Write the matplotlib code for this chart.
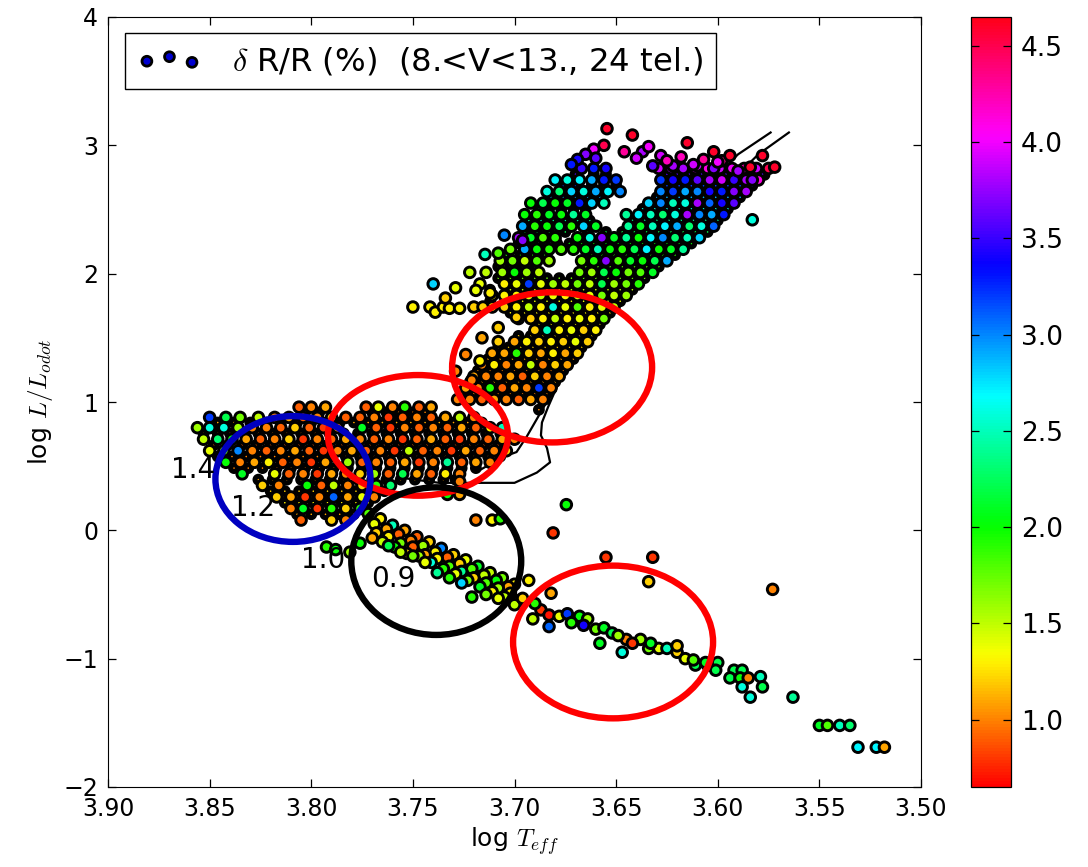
import matplotlib
matplotlib.use('Agg')
import matplotlib.pyplot as plt
from matplotlib.patches import Ellipse

plt.rcParams['mathtext.fontset'] = 'cm'

# turnoff / hook, one list per row of log L
hook_y = [0.96, 0.88, 0.80, 0.71, 0.62, 0.53, 0.44, 0.35, 0.26, 0.17, 0.08]
hook_x = [
    [3.806, 3.800, 3.793, 3.773, 3.767, 3.760, 3.754, 3.747, 3.741],
    [3.850, 3.842, 3.835, 3.826, 3.818, 3.811, 3.804, 3.797, 3.790, 3.783, 3.776, 3.769, 3.762, 3.755, 3.748, 3.741, 3.734, 3.727, 3.720],
    [3.856, 3.850, 3.843, 3.836, 3.829, 3.822, 3.815, 3.808, 3.801, 3.794, 3.787, 3.775, 3.768, 3.761, 3.754, 3.747, 3.740, 3.733, 3.726, 3.719, 3.712, 3.706],
    [3.853, 3.846, 3.839, 3.832, 3.825, 3.818, 3.811, 3.804, 3.797, 3.790, 3.783, 3.776, 3.769, 3.762, 3.755, 3.748, 3.741, 3.734, 3.727, 3.720, 3.713, 3.706, 3.700],
    [3.850, 3.843, 3.836, 3.829, 3.822, 3.815, 3.808, 3.801, 3.794, 3.787, 3.780, 3.773, 3.766, 3.759, 3.752, 3.745, 3.738, 3.731, 3.724, 3.717, 3.710, 3.704],
    [3.842, 3.835, 3.828, 3.821, 3.814, 3.807, 3.800, 3.793, 3.782, 3.775, 3.768, 3.761, 3.754, 3.747, 3.740, 3.733, 3.726, 3.719, 3.712],
    [3.834, 3.818, 3.811, 3.804, 3.797, 3.790, 3.783, 3.776, 3.769, 3.762, 3.755, 3.748, 3.741, 3.734, 3.727],
    [3.824, 3.816, 3.802, 3.795, 3.789, 3.782, 3.775, 3.768, 3.761],
    [3.817, 3.810, 3.803, 3.796, 3.789, 3.782, 3.775, 3.769],
    [3.810, 3.804, 3.797, 3.790, 3.783, 3.776],
    [3.805, 3.790, 3.783],
]
hook_c = [
    [0.9, 1.0, 1.1, 0.9, 1.4, 1.0, 1.9, 0.9, 1.1],
    [3.2, 2.2, 1.7, 1.5, 1.0, 1.1, 0.9, 1.0, 1.2, 0.9, 0.9, 1.0, 0.8, 0.9, 1.0, 0.9, 1.1, 1.5, 1.0],
    [1.6, 2.6, 2.6, 1.6, 1.0, 1.0, 0.9, 1.2, 0.9, 0.8, 1.0, 2.1, 0.9, 0.8, 1.0, 0.9, 1.0, 0.9, 1.1, 0.9, 1.3, 2.5],
    [1.5, 2.3, 2.0, 1.1, 0.9, 1.0, 1.2, 0.8, 1.0, 0.9, 1.1, 1.0, 0.9, 1.0, 0.8, 0.9, 1.1, 0.9, 0.8, 1.0, 0.9, 1.1, 1.0],
    [1.4, 1.7, 3.0, 1.0, 0.9, 1.0, 1.1, 0.9, 0.8, 1.0, 1.1, 0.9, 1.0, 0.8, 1.5, 0.9, 1.0, 0.8, 1.1, 0.9, 1.0, 1.2],
    [2.0, 1.0, 1.1, 1.3, 0.9, 1.0, 0.8, 1.1, 1.6, 0.9, 1.0, 0.9, 1.1, 0.8, 1.0, 2.4, 0.9, 1.1, 1.0],
    [2.1, 1.4, 0.9, 1.0, 0.8, 1.1, 1.0, 1.2, 1.6, 0.9, 2.2, 1.1, 0.9, 1.3, 1.0],
    [1.2, 1.0, 2.0, 0.9, 1.5, 1.0, 1.2, 1.9, 2.3],
    [1.2, 1.1, 0.8, 1.0, 3.1, 1.1, 1.4, 1.0],
    [1.0, 2.1, 0.8, 1.9, 1.2, 1.9],
    [0.9, 1.2, 1.0],
]

# giant branch, one list per row of log L
rgb_y = [1.02, 1.11, 1.20, 1.29, 1.38, 1.47, 1.56, 1.65, 1.74, 1.83, 1.92, 2.01, 2.10, 2.19, 2.28, 2.37, 2.46, 2.55, 2.64, 2.73, 2.82]
rgb_x = [
    [3.686, 3.692, 3.698, 3.704, 3.710, 3.716, 3.722, 3.728],
    [3.682, 3.688, 3.694, 3.700, 3.706, 3.712, 3.718, 3.724],
    [3.678, 3.684, 3.690, 3.696, 3.702, 3.708, 3.714, 3.720],
    [3.674, 3.680, 3.686, 3.692, 3.698, 3.704, 3.710, 3.716],
    [3.669, 3.675, 3.681, 3.687, 3.693, 3.699, 3.705, 3.711],
    [3.664, 3.670, 3.676, 3.682, 3.688, 3.694, 3.700],
    [3.660, 3.666, 3.672, 3.678, 3.684, 3.690],
    [3.656, 3.662, 3.668, 3.674, 3.680, 3.686, 3.692, 3.698],
    [3.651, 3.657, 3.663, 3.669, 3.675, 3.681, 3.687, 3.693, 3.699, 3.705, 3.711],
    [3.645, 3.651, 3.657, 3.663, 3.669, 3.675, 3.681, 3.687, 3.693, 3.699, 3.705, 3.711],
    [3.639, 3.645, 3.651, 3.657, 3.663, 3.669, 3.675, 3.681, 3.687, 3.693, 3.699, 3.705, 3.717],
    [3.632, 3.638, 3.644, 3.650, 3.656, 3.662, 3.668, 3.688, 3.694, 3.700, 3.706, 3.714],
    [3.625, 3.631, 3.637, 3.643, 3.649, 3.655, 3.661, 3.667, 3.683, 3.689, 3.695, 3.701, 3.707],
    [3.617, 3.623, 3.629, 3.635, 3.641, 3.647, 3.653, 3.659, 3.665, 3.671, 3.677, 3.683, 3.689, 3.695, 3.702],
    [3.609, 3.615, 3.621, 3.627, 3.633, 3.639, 3.645, 3.651, 3.657, 3.663, 3.669, 3.680, 3.686, 3.692, 3.698],
    [3.602, 3.608, 3.614, 3.620, 3.626, 3.632, 3.638, 3.644, 3.660, 3.666, 3.672, 3.678, 3.684, 3.690, 3.696],
    [3.597, 3.603, 3.609, 3.615, 3.621, 3.627, 3.633, 3.639, 3.645, 3.665, 3.671, 3.677, 3.683, 3.689, 3.695],
    [3.592, 3.598, 3.604, 3.610, 3.616, 3.622, 3.628, 3.634, 3.656, 3.662, 3.668, 3.674, 3.680, 3.686, 3.692],
    [3.586, 3.592, 3.598, 3.604, 3.610, 3.616, 3.622, 3.628, 3.648, 3.654, 3.660, 3.666, 3.672, 3.678, 3.684],
    [3.580, 3.586, 3.592, 3.598, 3.604, 3.610, 3.616, 3.622, 3.628, 3.650, 3.656, 3.662, 3.668, 3.674, 3.680],
    [3.575, 3.581, 3.587, 3.593, 3.599, 3.605, 3.611, 3.617, 3.623, 3.629, 3.655, 3.661, 3.667],
]
rgb_c = [
    [1.0, 1.1, 0.9, 1.0, 1.1, 0.9, 1.0, 1.0],
    [1.0, 3.2, 1.0, 1.1, 0.9, 1.9, 1.0, 1.1],
    [1.1, 1.0, 1.2, 0.9, 1.1, 1.0, 1.0, 1.1],
    [1.1, 1.2, 1.0, 1.5, 1.1, 1.0, 1.3, 1.0],
    [1.2, 1.1, 1.3, 1.1, 1.2, 1.9, 1.1, 1.1],
    [1.2, 1.4, 1.2, 1.3, 1.2, 1.3, 1.1],
    [1.3, 1.2, 1.4, 1.3, 2.5, 1.2],
    [1.7, 1.3, 1.4, 1.3, 1.5, 1.3, 1.2, 1.3],
    [1.5, 1.4, 1.3, 1.8, 1.4, 2.6, 1.3, 1.5, 1.3, 1.2, 1.3],
    [1.6, 1.5, 1.7, 1.4, 1.5, 1.3, 1.4, 1.5, 1.4, 1.3, 1.3, 1.3],
    [1.9, 1.7, 1.6, 2.2, 1.5, 1.7, 1.5, 1.6, 1.4, 3.2, 1.4, 1.3, 1.4],
    [2.1, 1.8, 1.7, 2.0, 2.2, 1.6, 1.7, 1.5, 1.6, 2.0, 1.6, 1.5],
    [2.9, 2.2, 2.0, 2.1, 1.8, 3.7, 1.9, 1.7, 1.6, 1.8, 1.5, 1.7, 1.6],
    [2.4, 2.1, 2.0, 2.7, 2.2, 1.9, 2.0, 2.5, 2.1, 1.9, 1.8, 1.9, 2.0, 2.9, 1.7],
    [2.8, 2.5, 2.3, 3.0, 2.7, 2.0, 2.4, 2.1, 3.7, 2.6, 2.0, 1.9, 1.8, 2.1, 3.8],
    [3.1, 2.6, 2.3, 2.9, 2.7, 2.5, 2.1, 2.4, 2.1, 2.8, 1.9, 2.2, 2.0, 1.9, 2.9],
    [3.3, 2.9, 3.0, 3.8, 2.6, 2.3, 2.5, 2.7, 2.4, 2.1, 2.4, 2.0, 2.1, 1.9, 2.0],
    [3.6, 3.4, 3.1, 3.8, 2.6, 2.5, 3.0, 2.8, 2.5, 2.8, 3.3, 2.1, 2.0, 2.2, 2.0],
    [3.8, 3.7, 3.3, 3.4, 3.0, 2.9, 3.2, 3.0, 3.0, 2.7, 2.9, 2.6, 2.8, 2.3, 2.6],
    [4.1, 3.8, 3.5, 3.9, 3.8, 3.6, 3.3, 3.4, 3.2, 3.2, 3.3, 2.9, 2.7, 2.6, 2.7],
    [4.5, 3.9, 4.2, 4.0, 3.9, 4.1, 3.9, 3.8, 3.8, 3.9, 3.4, 3.3, 3.5],
]

# stars crowded underneath the rows above, only slivers of them show
under_y = [0.92, 0.84, 0.755, 0.665, 0.575, 0.485, 0.395, 0.305, 0.215, 0.125,
           1.065, 1.155, 1.245, 1.335, 1.425, 1.515, 1.605, 1.695, 1.785, 1.875,
           1.965, 2.055, 2.145, 2.235, 2.325, 2.415, 2.505, 2.595, 2.685, 2.775]
under_c = [1.0, 1.1, 1.0, 0.9, 1.0, 1.0, 1.1, 1.2, 1.3, 1.1,
           1.0, 1.1, 1.0, 1.1, 1.2, 1.2, 1.3, 1.3, 1.4, 1.5,
           1.7, 1.8, 1.9, 2.0, 2.2, 2.4, 2.6, 2.9, 3.2, 3.6]
under_x = [
    [3.803, 3.796, 3.770, 3.763, 3.757, 3.750, 3.744],
    [3.846, 3.838, 3.830, 3.822, 3.815, 3.807, 3.800, 3.793, 3.786, 3.779, 3.772, 3.765, 3.758, 3.751, 3.744, 3.737, 3.730, 3.723, 3.716],
    [3.853, 3.846, 3.840, 3.833, 3.826, 3.819, 3.812, 3.805, 3.798, 3.791, 3.784, 3.777, 3.770, 3.763, 3.756, 3.749, 3.742, 3.735, 3.728, 3.721, 3.714, 3.707],
    [3.848, 3.841, 3.834, 3.827, 3.820, 3.813, 3.806, 3.799, 3.792, 3.785, 3.778, 3.771, 3.764, 3.757, 3.750, 3.743, 3.736, 3.729, 3.722, 3.715, 3.708],
    [3.846, 3.839, 3.832, 3.825, 3.818, 3.811, 3.804, 3.797, 3.790, 3.783, 3.776, 3.769, 3.762, 3.755, 3.748, 3.741, 3.734, 3.727, 3.720, 3.713, 3.707],
    [3.838, 3.831, 3.824, 3.817, 3.810, 3.803, 3.796, 3.789, 3.782, 3.775, 3.768, 3.761, 3.754, 3.747, 3.740, 3.733, 3.726, 3.719],
    [3.826, 3.819, 3.812, 3.805, 3.798, 3.791, 3.784, 3.777, 3.770, 3.763, 3.756, 3.749, 3.742, 3.735, 3.729],
    [3.820, 3.813, 3.806, 3.799, 3.792, 3.785, 3.778, 3.771, 3.764],
    [3.813, 3.806, 3.799, 3.792, 3.785, 3.778, 3.772],
    [3.807, 3.800, 3.793, 3.786, 3.779],
    [3.684, 3.690, 3.696, 3.702, 3.708, 3.714, 3.720, 3.726],
    [3.680, 3.686, 3.692, 3.698, 3.704, 3.710, 3.716, 3.722],
    [3.676, 3.682, 3.688, 3.694, 3.700, 3.706, 3.712, 3.718],
    [3.671, 3.677, 3.683, 3.689, 3.695, 3.701, 3.707, 3.713],
    [3.667, 3.673, 3.679, 3.685, 3.691, 3.697, 3.703, 3.708],
    [3.662, 3.668, 3.674, 3.680, 3.686, 3.692, 3.698],
    [3.658, 3.664, 3.670, 3.676, 3.682, 3.688],
    [3.653, 3.659, 3.665, 3.671, 3.677, 3.683, 3.689, 3.695, 3.702],
    [3.648, 3.654, 3.660, 3.666, 3.672, 3.678, 3.684, 3.690, 3.696, 3.702, 3.712],
    [3.642, 3.648, 3.654, 3.660, 3.666, 3.672, 3.678, 3.684, 3.690, 3.696, 3.702, 3.712],
    [3.636, 3.642, 3.648, 3.654, 3.660, 3.666, 3.672, 3.678, 3.684, 3.690, 3.696, 3.702, 3.708],
    [3.629, 3.635, 3.641, 3.647, 3.653, 3.659, 3.665, 3.690, 3.696, 3.702, 3.708],
    [3.621, 3.627, 3.633, 3.639, 3.645, 3.651, 3.657, 3.662, 3.685, 3.691, 3.697, 3.704],
    [3.613, 3.619, 3.625, 3.631, 3.637, 3.643, 3.649, 3.655, 3.661, 3.667, 3.673, 3.679, 3.685, 3.691, 3.698],
    [3.605, 3.611, 3.617, 3.623, 3.629, 3.635, 3.641, 3.647, 3.655, 3.664, 3.675, 3.683, 3.689, 3.695],
    [3.600, 3.606, 3.612, 3.618, 3.624, 3.630, 3.636, 3.642, 3.663, 3.669, 3.675, 3.681, 3.687, 3.693],
    [3.595, 3.601, 3.607, 3.613, 3.619, 3.625, 3.631, 3.637, 3.665, 3.671, 3.677, 3.683, 3.688],
    [3.589, 3.595, 3.601, 3.607, 3.613, 3.619, 3.625, 3.630, 3.658, 3.664, 3.670, 3.676, 3.682],
    [3.583, 3.589, 3.595, 3.601, 3.607, 3.613, 3.619, 3.625, 3.650, 3.656, 3.662, 3.670, 3.676],
    [3.578, 3.584, 3.590, 3.596, 3.602, 3.608, 3.614, 3.620, 3.625, 3.655, 3.661, 3.670],
]

# dense strand along the hot edge of the giant branch
edge_x = [3.688, 3.685, 3.682, 3.680, 3.678, 3.675, 3.672, 3.670, 3.668, 3.665, 3.662, 3.660, 3.657, 3.655, 3.652, 3.649, 3.646, 3.643, 3.640, 3.637, 3.634, 3.631, 3.628, 3.625, 3.622, 3.619, 3.616, 3.613, 3.610, 3.607, 3.604, 3.601, 3.598, 3.595, 3.592, 3.589, 3.586, 3.583, 3.580, 3.577]
edge_y = [0.94, 1.02, 1.10, 1.17, 1.24, 1.31, 1.38, 1.45, 1.52, 1.59, 1.66, 1.72, 1.78, 1.83, 1.87, 1.91, 1.95, 1.98, 2.01, 2.04, 2.07, 2.10, 2.14, 2.17, 2.20, 2.24, 2.27, 2.31, 2.34, 2.38, 2.42, 2.46, 2.50, 2.54, 2.58, 2.62, 2.66, 2.70, 2.73, 2.77]
edge_c = [1.0, 1.1, 1.0, 1.1, 1.2, 1.1, 1.2, 1.3, 1.2, 1.4, 1.5, 1.4, 1.6, 1.5, 1.7, 1.9, 2.0, 2.1, 2.0, 2.1, 2.2, 2.0, 2.1, 2.2, 2.4, 2.2, 2.5, 2.4, 2.7, 2.6, 3.0, 3.0, 3.2, 3.1, 3.4, 3.3, 3.6, 3.5, 3.8, 4.0]

# stars scattered off the main body, read one by one
extra_x = [3.750, 3.7416, 3.739, 3.735, 3.732, 3.727, 3.720, 3.7155, 3.734, 3.719, 3.712, 3.729, 3.722, 3.740, 3.7145, 3.708, 3.705, 3.696,
           3.708, 3.699, 3.716, 3.708, 3.724, 3.717, 3.729, 3.721,
           3.6545, 3.656, 3.661, 3.665, 3.669, 3.672, 3.642, 3.637, 3.634, 3.628, 3.622, 3.615, 3.610, 3.602, 3.602, 3.598, 3.590, 3.594, 3.578, 3.584, 3.572, 3.583,
           3.660, 3.646, 3.640, 3.632, 3.625, 3.618, 3.612, 3.607, 3.600, 3.583]
extra_y = [1.74, 1.74, 1.70, 1.74, 1.73, 1.73, 1.74, 1.74, 1.81, 1.87, 1.85, 1.89, 2.01, 1.92, 2.15, 2.16, 2.30, 2.26,
           1.58, 1.66, 1.50, 1.47, 1.37, 1.32, 1.24, 1.17,
           3.13, 3.00, 2.97, 2.93, 2.89, 2.85, 3.08, 2.95, 2.99, 2.92, 2.84, 3.02, 2.84, 2.95, 2.82, 2.88, 2.80, 2.92, 2.92, 2.83, 2.83, 2.73,
           2.90, 2.95, 2.90, 2.84, 2.88, 2.91, 2.85, 2.89, 2.87, 2.42]
extra_c = [1.3, 1.3, 1.3, 1.3, 1.3, 1.3, 1.2, 1.2, 1.2, 1.4, 1.3, 1.4, 1.5, 2.8, 2.5, 1.8, 3.0, 3.7,
           1.2, 1.2, 1.1, 1.2, 1.0, 1.3, 1.0, 1.0,
           4.6, 4.5, 4.0, 3.7, 3.4, 3.3, 4.6, 3.8, 4.0, 3.9, 3.8, 4.6, 3.9, 4.6, 3.7, 4.3, 3.8, 4.6, 4.6, 4.6, 4.6, 3.7,
           3.6, 4.3, 3.9, 3.6, 4.2, 4.2, 3.9, 4.3, 4.0, 2.6]

# main sequence and the faint tail
ms_x = [3.772, 3.766, 3.760, 3.754, 3.748, 3.742, 3.736, 3.730, 3.724, 3.718, 3.712, 3.706, 3.700,
        3.769, 3.763, 3.757, 3.751, 3.745, 3.739, 3.733, 3.727, 3.721, 3.715, 3.709, 3.703,
        3.768, 3.762, 3.756, 3.750, 3.744, 3.738, 3.732, 3.726, 3.720, 3.714, 3.708, 3.702,
        3.765, 3.759, 3.753, 3.747, 3.741, 3.735, 3.729, 3.723, 3.717, 3.711, 3.705, 3.698,
        3.762, 3.756, 3.750, 3.744, 3.738, 3.732, 3.726, 3.721, 3.714, 3.708, 3.700,
        3.7925, 3.788, 3.781, 3.776, 3.770,
        3.727, 3.733, 3.727, 3.719, 3.711, 3.707, 3.6745, 3.681,
        3.693, 3.682, 3.687, 3.691, 3.683, 3.678, 3.674, 3.683, 3.668, 3.664, 3.660, 3.656, 3.652, 3.645, 3.638, 3.658, 3.647, 3.634, 3.629, 3.625, 3.620, 3.616, 3.611, 3.605, 3.600, 3.601, 3.592, 3.588, 3.594, 3.589, 3.585, 3.579, 3.578, 3.588, 3.584, 3.563, 3.550, 3.546, 3.540, 3.535, 3.531, 3.522, 3.518,
        3.655, 3.632, 3.634, 3.573, 3.696, 3.690, 3.672, 3.666, 3.649, 3.642, 3.633, 3.620, 3.612, 3.606]
ms_y = [0.13, 0.09, 0.04, 0.00, -0.05, -0.09, -0.14, -0.19, -0.23, -0.28, -0.33, -0.37, -0.42,
        0.05, 0.01, -0.03, -0.08, -0.12, -0.17, -0.21, -0.26, -0.30, -0.35, -0.39, -0.44,
        -0.02, -0.05, -0.10, -0.13, -0.19, -0.22, -0.28, -0.32, -0.37, -0.41, -0.45, -0.49,
        -0.09, -0.13, -0.18, -0.20, -0.25, -0.30, -0.34, -0.39, -0.44, -0.48, -0.52, -0.55,
        -0.12, -0.17, -0.20, -0.25, -0.33, -0.37, -0.41, -0.52, -0.50, -0.53, -0.58,
        -0.13, -0.15, -0.17, -0.10, -0.06,
        0.38, 0.28, 0.28, 0.08, 0.08, 0.09, 0.20, -0.02,
        -0.39, -0.49, -0.62, -0.69, -0.66, -0.67, -0.65, -0.75, -0.67, -0.69, -0.77, -0.76, -0.80, -0.85, -0.85, -0.88, -0.95, -0.92, -0.92, -0.92, -0.95, -1.00, -1.05, -1.05, -1.03, -1.09, -1.09, -1.09, -1.15, -1.15, -1.15, -1.14, -1.22, -1.22, -1.30, -1.30, -1.52, -1.52, -1.52, -1.52, -1.69, -1.69, -1.69,
        -0.21, -0.21, -0.40, -0.46, -0.53, -0.57, -0.72, -0.74, -0.82, -0.88, -0.88, -0.90, -1.01, -1.03]
ms_c = [1.8, 1.3, 2.5, 1.1, 0.9, 1.2, 3.0, 1.2, 1.4, 2.1, 1.5, 1.7, 1.3,
        1.4, 1.1, 0.9, 1.0, 1.6, 1.3, 0.9, 1.2, 1.8, 1.5, 2.0, 1.1,
        1.2, 1.3, 1.7, 0.9, 1.1, 1.3, 1.8, 2.4, 1.2, 1.8, 1.6, 1.3,
        1.5, 2.0, 1.2, 1.6, 2.6, 1.9, 1.4, 1.7, 2.1, 1.3, 1.5, 1.6,
        2.2, 1.5, 1.7, 1.4, 2.4, 1.9, 2.8, 1.9, 1.7, 1.4, 1.5,
        1.9, 2.0, 1.6, 2.0, 1.1,
        1.0, 2.0, 1.1, 1.0, 1.3, 1.9, 2.0, 0.8,
        1.3, 1.1, 0.8, 1.5, 0.7, 1.4, 3.2, 3.1, 2.0, 1.6, 1.7, 2.1, 2.2, 1.0, 1.6, 2.1, 2.6, 1.7, 1.4, 2.5, 1.2, 1.4, 2.2, 2.1, 2.2, 2.2, 2.2, 2.2, 2.2, 2.0, 1.0, 2.5, 2.2, 2.6, 2.6, 2.4, 2.1, 1.8, 2.5, 2.3, 2.7, 2.7, 1.1,
        0.8, 0.8, 1.2, 1.0, 1.2, 1.9, 1.9, 3.4, 1.6, 0.8, 2.1, 1.2, 1.8, 2.1]

# isochrones
iso1_x = [3.565, 3.580, 3.600, 3.630, 3.655, 3.668, 3.6766, 3.6835, 3.6865, 3.687, 3.684, 3.6825, 3.689, 3.700, 3.717, 3.737, 3.756]
iso1_y = [3.10, 2.93, 2.62, 2.20, 1.80, 1.45, 1.21, 0.96, 0.84, 0.74, 0.64, 0.53, 0.45, 0.37, 0.37, 0.37, 0.41]
iso2_x = [3.574, 3.590, 3.610, 3.640, 3.660, 3.672, 3.678, 3.694, 3.699, 3.706, 3.717]
iso2_y = [3.10, 2.93, 2.62, 2.20, 1.80, 1.45, 1.17, 0.73, 0.61, 0.57, 0.47]

# mass labels
mass_labels = ['1.4', '1.2', '1.0', '0.9']
mass_x = [3.858, 3.8285, 3.794, 3.7595]
mass_y = [0.47, 0.175, -0.235, -0.38]

# hand drawn ellipses: centre x, centre y, width, height, colour
ell_x = [3.6815, 3.7475, 3.6515, 3.8090, 3.7385]
ell_y = [1.27, 0.74, -0.87, 0.40, -0.24]
ell_w = [0.0984, 0.0886, 0.0984, 0.0763, 0.0836]
ell_h = [1.17, 0.94, 1.19, 0.98, 1.15]
ell_col = ['#ff0000', '#ff0000', '#ff0000', '#0000c0', '#000000']

cb_ticks = [1.0, 1.5, 2.0, 2.5, 3.0, 3.5, 4.0, 4.5]

# crowded stars go first, nearly all edge, so the later rows keep their colour
under_xs, under_ys, under_cs = list(edge_x), list(edge_y), list(edge_c)
for row_y, row_x, row_c in zip(under_y, under_x, under_c):
    under_xs += row_x
    under_ys += [row_y] * len(row_x)
    under_cs += [row_c] * len(row_x)

x, y, c = [], [], []
for row_y, row_x, row_c in zip(hook_y + rgb_y, hook_x + rgb_x, hook_c + rgb_c):
    for xi, ci in zip(row_x, row_c):
        x.append(xi)
        y.append(row_y)
        c.append(ci)
x += extra_x + ms_x
y += extra_y + ms_y
c += extra_c + ms_c

fig = plt.figure(figsize=(10.88, 8.67), dpi=100)
ax = fig.add_axes([108 / 1088, 80 / 867, 813 / 1088, 770 / 867])
cax = fig.add_axes([971 / 1088, 80 / 867, 40 / 1088, 770 / 867])

ax.plot(iso1_x, iso1_y, 'k-', lw=1.6, zorder=1)
ax.plot(iso2_x, iso2_y, 'k-', lw=1.6, zorder=1)
ax.scatter(under_xs, under_ys, c=under_cs, cmap='hsv', vmin=0.65, vmax=4.65, s=24, linewidths=3.6, edgecolors='k', zorder=2)
sc = ax.scatter(x, y, c=c, cmap='hsv', vmin=0.65, vmax=4.65, s=58, linewidths=2.1, edgecolors='k', zorder=3)
leg_h = ax.scatter([], [], c='#0000d0', s=50, linewidths=2.0, edgecolors='k',
                   label=r'$\delta$ R/R (%)  (8.<V<13., 24 tel.)')

for xi, yi, wi, hi, col in zip(ell_x, ell_y, ell_w, ell_h, ell_col):
    ax.add_patch(Ellipse((xi, yi), wi, hi, fill=False, edgecolor=col, lw=4.6, zorder=4))
for lab, xi, yi in zip(mass_labels, mass_x, mass_y):
    ax.text(xi, yi, lab, fontsize=20, ha='center', va='center', zorder=5)

ax.set_xlim(3.90, 3.50)
ax.set_ylim(-2, 4)
ax.set_xticks([3.90, 3.85, 3.80, 3.75, 3.70, 3.65, 3.60, 3.55, 3.50])
ax.set_xticklabels(['3.90', '3.85', '3.80', '3.75', '3.70', '3.65', '3.60', '3.55', '3.50'])
ax.set_yticks([-2, -1, 0, 1, 2, 3, 4])
ax.set_yticklabels(['\u22122', '\u22121', '0', '1', '2', '3', '4'])
ax.tick_params(direction='in', top=True, right=True, length=6, width=0.9, labelsize=17, pad=7)
ax.set_xlabel(r'log $T_{eff}$', fontsize=18, labelpad=3)
ax.set_ylabel(r'log $L/L_{odot}$', fontsize=18, labelpad=6)

ax.legend(handles=[leg_h], loc='upper left', bbox_to_anchor=(17 / 813, 1 - 16 / 770), borderaxespad=0,
          scatterpoints=3, scatteryoffsets=[0.4, 0.6, 0.35], fontsize=23.2, fancybox=False, framealpha=1,
          edgecolor='k', handletextpad=0.95, borderpad=0.38)

cb = fig.colorbar(sc, cax=cax)
cb.set_ticks(cb_ticks)
cb.ax.tick_params(direction='in', length=6, width=0.9, labelsize=19, left=True, right=True, pad=7)
cb.outline.set_linewidth(0.9)

fig.savefig('out.png', dpi=100)
